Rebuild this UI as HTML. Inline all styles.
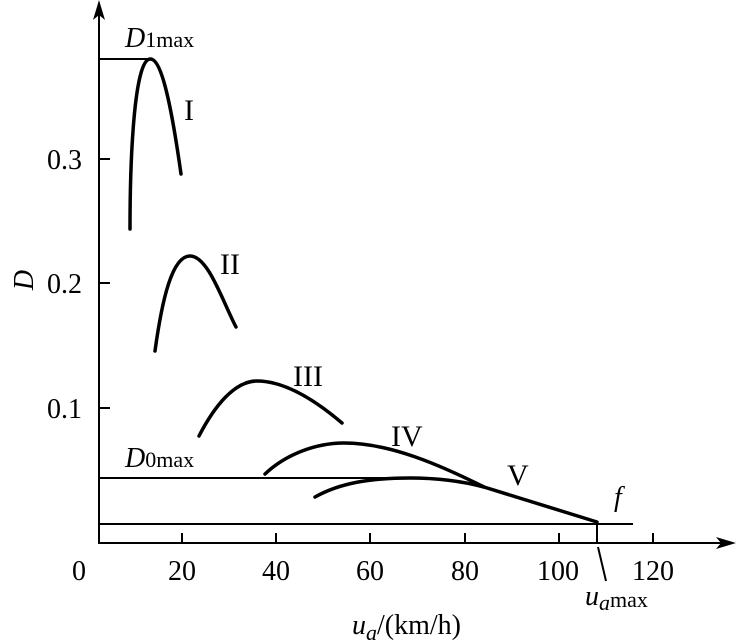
<!DOCTYPE html>
<html><head><meta charset="utf-8"><style>
html,body{margin:0;padding:0;background:#fff}
svg{display:block}
text{font-family:"Liberation Serif",serif;fill:#000}
</style></head><body>
<svg width="744" height="644" viewBox="0 0 744 644" xmlns="http://www.w3.org/2000/svg">
<g stroke="#000" stroke-width="2" fill="none">
<line x1="99" y1="544" x2="99" y2="8"/>
<line x1="98" y1="543" x2="728" y2="543"/>
<line x1="182" y1="543" x2="182" y2="533"/>
<line x1="276" y1="543" x2="276" y2="533"/>
<line x1="370" y1="543" x2="370" y2="533"/>
<line x1="465" y1="543" x2="465" y2="533"/>
<line x1="559" y1="543" x2="559" y2="533"/>
<line x1="653" y1="543" x2="653" y2="533"/>
<line x1="99" y1="159" x2="110" y2="159"/>
<line x1="99" y1="283" x2="110" y2="283"/>
<line x1="99" y1="408" x2="110" y2="408"/>
<line x1="99" y1="59" x2="150" y2="59"/>
<line x1="99" y1="478" x2="432" y2="478"/>
<line x1="99" y1="524" x2="633" y2="524"/>
<line x1="597" y1="524" x2="597" y2="543"/>
<line x1="598" y1="547" x2="606" y2="581"/>
</g>
<polygon points="99,0 93,20 99,15 105,20" fill="#000"/>
<polygon points="736,543 716,537 721,543 716,549" fill="#000"/>
<g stroke="#000" stroke-width="3.5" fill="none" stroke-linecap="round">
<path d="M130,229 C130,160 134,60 150,59 C162,58 172,110 181,174"/>
<path d="M155,351 C162,300 172,256 190,256 C208,256 222,300 236,327"/>
<path d="M199,436 C215,405 235,381 257,381 C285,381 315,400 342,423"/>
<path d="M265,474 C285,455 315,443 344,443 C390,443 440,465 484,487 L597,522"/>
<path d="M315,497 C340,483 370,478 410,478 C440,478 465,482 484,487"/>
</g>
<g font-size="28">
<text x="47" y="169">0.3</text>
<text x="47" y="293">0.2</text>
<text x="47" y="418">0.1</text>
<text x="72" y="580">0</text>
<text x="182" y="580" text-anchor="middle">20</text>
<text x="276" y="580" text-anchor="middle">40</text>
<text x="370" y="580" text-anchor="middle">60</text>
<text x="465" y="580" text-anchor="middle">80</text>
<text x="558" y="580" text-anchor="middle">100</text>
<text x="653" y="580" text-anchor="middle">120</text>
<text x="184" y="120" font-size="30">I</text>
<text x="220" y="274" font-size="30">II</text>
<text x="293" y="386" font-size="30">III</text>
<text x="391" y="446" font-size="30">IV</text>
<text x="507" y="485" font-size="30">V</text>
<text x="614" y="506" font-style="italic">f</text>
<text x="125" y="47"><tspan font-style="italic">D</tspan><tspan font-size="22">1max</tspan></text>
<text x="125" y="467"><tspan font-style="italic">D</tspan><tspan font-size="22">0max</tspan></text>
<text x="24" y="280" font-style="italic" transform="rotate(-90 24 280)" text-anchor="middle" dy="9">D</text>
<text x="585" y="605"><tspan font-style="italic">u</tspan><tspan font-style="italic" font-size="22" dy="5">a</tspan><tspan font-size="22" dy="-3">max</tspan></text>
<text x="352" y="634"><tspan font-style="italic">u</tspan><tspan font-style="italic" font-size="22" dy="6">a</tspan><tspan dy="-6">/(km/h)</tspan></text>
</g>
</svg>
</body></html>
